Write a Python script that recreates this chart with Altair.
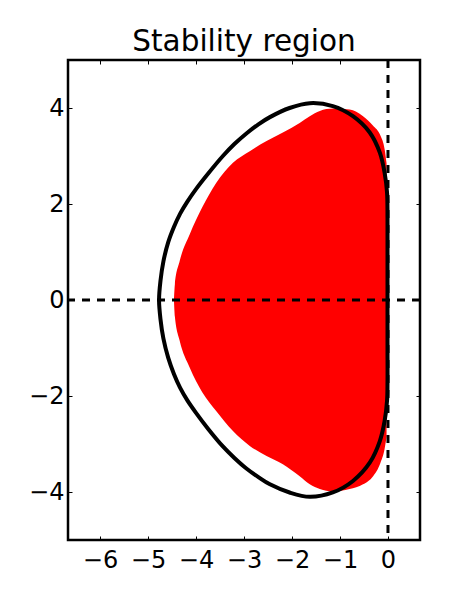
import altair as alt
import pandas as pd

# Boundary curve (black), traced counter-clockwise from the origin
curve_x = [-0.01, -0.01, -0.01, -0.02, -0.07, -0.17, -0.38, -0.73, -1.15, -1.63,
           -2.05, -2.46, -2.70, -2.95, -3.20, -3.44, -3.75, -4.00, -4.18, -4.33,
           -4.46, -4.58, -4.68, -4.74, -4.77, -4.74, -4.68, -4.58, -4.46, -4.33,
           -4.18, -4.00, -3.75, -3.44, -3.20, -2.95, -2.70, -2.46, -2.05, -1.63,
           -1.15, -0.73, -0.38, -0.17, -0.07, -0.02, -0.01, -0.01, -0.01]
curve_y = [0.00, 1.00, 1.70, 2.24, 2.65, 3.07, 3.49, 3.83, 4.04, 4.10,
           4.00, 3.81, 3.66, 3.47, 3.25, 3.00, 2.63, 2.31, 2.05, 1.80,
           1.52, 1.20, 0.80, 0.40, 0.00, -0.40, -0.80, -1.20, -1.54, -1.83,
           -2.09, -2.35, -2.68, -3.05, -3.29, -3.51, -3.69, -3.84, -4.01, -4.10,
           -4.01, -3.77, -3.39, -2.94, -2.52, -2.10, -1.70, -1.00, 0.00]

# Filled (red) region: for each real value, upper and lower imaginary extent
red_x = [-4.46, -4.44, -4.34, -4.13, -3.87, -3.58, -3.23, -2.88, -2.53, -2.19,
         -1.84, -1.63, -1.42, -1.15, -0.80, -0.52, -0.31, -0.16, -0.07, -0.03]
red_top = [0.00, 0.33, 0.81, 1.37, 1.93, 2.44, 2.86, 3.10, 3.31, 3.49,
           3.69, 3.83, 3.94, 3.99, 3.97, 3.83, 3.63, 3.43, 3.14, 2.85]
red_bottom = [0.00, -0.35, -0.85, -1.41, -1.92, -2.31, -2.73, -3.04, -3.25, -3.42,
              -3.67, -3.84, -3.94, -3.99, -3.94, -3.84, -3.67, -3.40, -3.10, -2.85]

x_ticks = [-6, -5, -4, -3, -2, -1, 0]
y_ticks = [-4, -2, 0, 2, 4]
x_domain = [-6.667, 0.667]
y_domain = [-5, 5]
zero_line = [0]

curve = pd.DataFrame({"x": curve_x, "y": curve_y, "i": list(range(len(curve_x)))})
red = pd.DataFrame({"x": red_x, "top": red_top, "bottom": red_bottom})
zero = pd.DataFrame({"v": zero_line})

FONT = "DejaVu Sans"
xs = alt.Scale(domain=x_domain, nice=False, zero=False)
ys = alt.Scale(domain=y_domain, nice=False, zero=False)


def axis(orient, values, labels, pad):
    kw = dict(orient=orient, values=values, title=None, grid=False, domain=False,
              ticks=True, tickSize=4, tickWidth=1, tickColor="black", offset=-4,
              labels=labels)
    if labels:
        kw.update(labelFont=FONT, labelFontSize=24, labelColor="black",
                  labelPadding=pad,
                  labelExpr="replace(format(datum.value, 'd'), '-', '\u2212')")
    return alt.Axis(**kw)


red_layer = alt.Chart(red).mark_area(
    color="#ff0000", interpolate="monotone"
).encode(
    x=alt.X("x:Q", scale=xs, axis=axis("bottom", x_ticks, True, 8)),
    y=alt.Y("top:Q", scale=ys, axis=axis("left", y_ticks, True, 4)),
    y2="bottom:Q",
)

line_layer = alt.Chart(curve).mark_line(
    color="black", strokeWidth=4, interpolate="catmull-rom"
).encode(
    x=alt.X("x:Q", scale=xs, axis=axis("top", x_ticks, False, 0)),
    y=alt.Y("y:Q", scale=ys, axis=axis("right", y_ticks, False, 0)),
    order="i:Q",
)

hline = alt.Chart(zero).mark_rule(
    color="black", strokeWidth=3, strokeDash=[8, 7]
).encode(y=alt.Y("v:Q", scale=ys, axis=None))

vline = alt.Chart(zero).mark_rule(
    color="black", strokeWidth=3, strokeDash=[8, 7]
).encode(x=alt.X("v:Q", scale=xs, axis=None))

chart = alt.layer(red_layer, line_layer, hline, vline).resolve_axis(
    x="independent", y="independent"
).properties(
    width=352,
    height=480,
    padding={"left": 20, "top": 19, "right": 5, "bottom": 5},
    title=alt.Title("Stability region", font=FONT, fontSize=29.5,
                    fontWeight="normal", color="black", offset=-22,
                    baseline="alphabetic"),
    background="white",
).configure_view(stroke="black", strokeWidth=2.5)

chart.save("out.html", embed_options={"renderer": "svg", "actions": False})
